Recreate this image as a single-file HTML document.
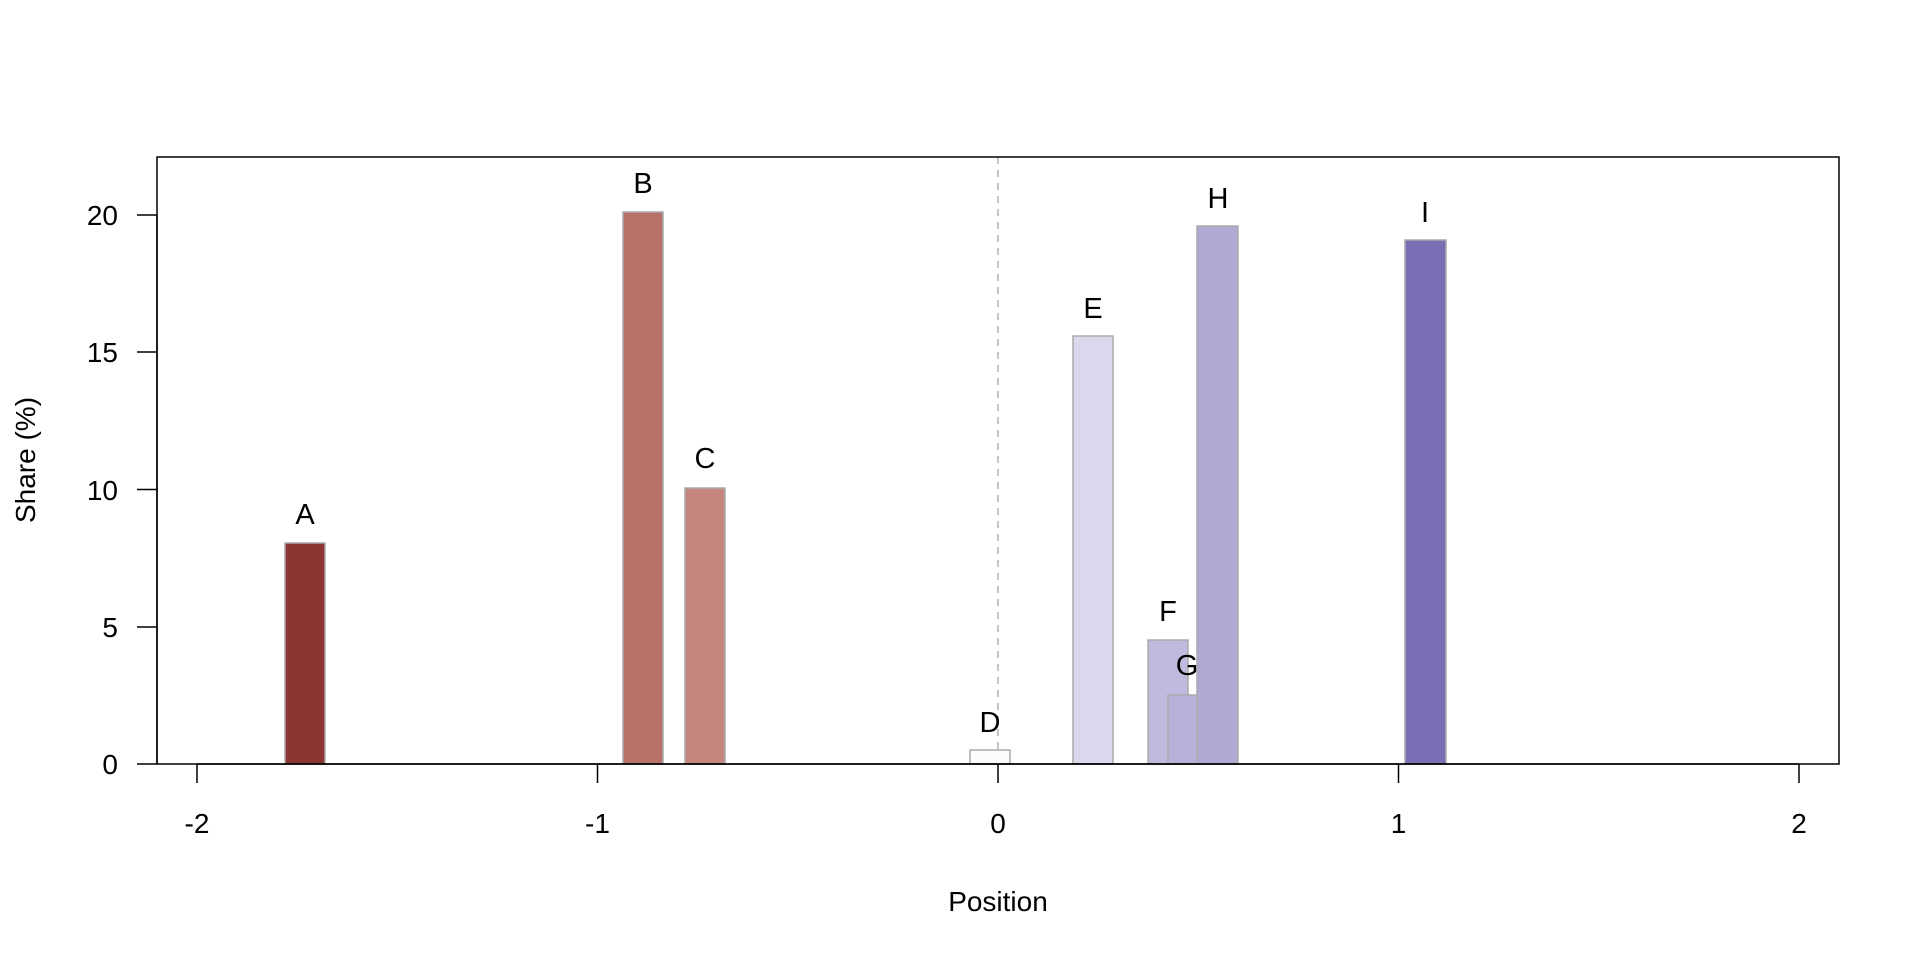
<!DOCTYPE html>
<html><head><meta charset="utf-8"><style>html,body{margin:0;padding:0;background:#fff}svg{display:block}</style></head>
<body>
<svg width="1920" height="960" viewBox="0 0 1920 960" xmlns="http://www.w3.org/2000/svg" font-family="Liberation Sans, sans-serif" font-size="28">
<rect x="0" y="0" width="1920" height="960" fill="#fff"/>
<line x1="998" y1="157" x2="998" y2="764" stroke="#b0b0b0" stroke-width="1.5" stroke-dasharray="7,6"/>
<g stroke="#aaaaaa" stroke-width="1.5">
<rect x="285" y="543" width="40" height="221" fill="#8B3632"/>
<rect x="623" y="212" width="40" height="552" fill="#B77168"/>
<rect x="685" y="488" width="40" height="276" fill="#C4867F"/>
<rect x="970" y="750" width="40" height="14" fill="#fdfcfd"/>
<rect x="1073" y="336" width="40" height="428" fill="#DCD7EC"/>
<rect x="1148" y="640" width="40" height="124" fill="#C1B9DE"/>
<rect x="1168" y="695" width="30" height="69" fill="#BAB1DA"/>
<rect x="1197" y="226" width="41" height="538" fill="#B1A9D3"/>
<rect x="1405" y="240" width="41" height="524" fill="#7A6EB5"/>
</g>
<g text-anchor="middle" fill="#000" font-size="29">
<text x="305" y="524">A</text>
<text x="643" y="193">B</text>
<text x="705" y="468">C</text>
<text x="990" y="732">D</text>
<text x="1093" y="318">E</text>
<text x="1168" y="621">F</text>
<text x="1187" y="675">G</text>
<text x="1218" y="208">H</text>
<text x="1425" y="222">I</text>
</g>
<rect x="157" y="157" width="1682" height="607" fill="none" stroke="#000" stroke-width="1.5"/>
<g stroke="#000" stroke-width="1.5">
<line x1="197" y1="764" x2="1799" y2="764"/>
<line x1="197" y1="764" x2="197" y2="783"/>
<line x1="597.5" y1="764" x2="597.5" y2="783"/>
<line x1="998" y1="764" x2="998" y2="783"/>
<line x1="1398.5" y1="764" x2="1398.5" y2="783"/>
<line x1="1799" y1="764" x2="1799" y2="783"/>
<line x1="157" y1="215" x2="157" y2="764"/>
<line x1="137" y1="764" x2="157" y2="764"/>
<line x1="137" y1="627" x2="157" y2="627"/>
<line x1="137" y1="489.5" x2="157" y2="489.5"/>
<line x1="137" y1="352" x2="157" y2="352"/>
<line x1="137" y1="215" x2="157" y2="215"/>
</g>
<g text-anchor="middle">
<text x="197" y="833">-2</text>
<text x="597.5" y="833">-1</text>
<text x="998" y="833">0</text>
<text x="1398.5" y="833">1</text>
<text x="1799" y="833">2</text>
<text x="998" y="911">Position</text>
</g>
<g text-anchor="end">
<text x="118" y="774">0</text>
<text x="118" y="637">5</text>
<text x="118" y="500">10</text>
<text x="118" y="362">15</text>
<text x="118" y="225">20</text>
</g>
<text transform="translate(35,460) rotate(-90)" text-anchor="middle">Share (%)</text>
</svg>
</body></html>
